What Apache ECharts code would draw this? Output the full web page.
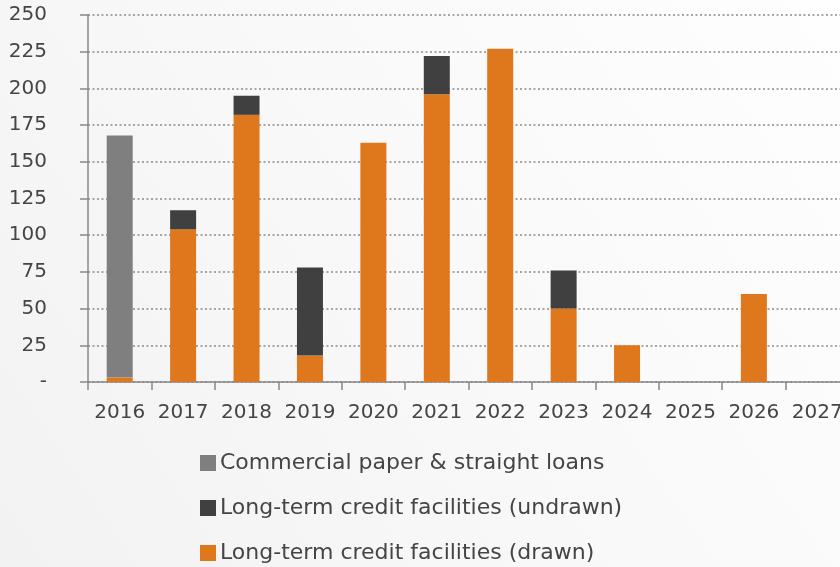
<!DOCTYPE html>
<html>
<head>
<meta charset="utf-8">
<script src="https://cdn.jsdelivr.net/npm/echarts@6/dist/echarts.min.js"></script>
<style>
  html, body { margin: 0; padding: 0; }
  #chart { width: 840px; height: 567px; }
</style>
</head>
<body>
<div id="chart"></div>
<script>
// maturity profile, amounts per year
const years = ["2016", "2017", "2018", "2019", "2020", "2021", "2022", "2023", "2024", "2025", "2026", "2027"];
const drawn = [3, 104, 182, 18, 163, 196, 227, 50, 25, 0, 60, 0];
const commercialPaper = [165, 0, 0, 0, 0, 0, 0, 0, 0, 0, 0, 0];
const undrawn = [0, 13, 13, 60, 0, 26, 0, 26, 0, 0, 0, 0];
const yTicks = [0, 25, 50, 75, 100, 125, 150, 175, 200, 225, 250];

const FONT = "DejaVu Sans";
const TEXT = "#454545";

const chart = echarts.init(document.getElementById("chart"));

const option = {
  backgroundColor: new echarts.graphic.LinearGradient(0, 1, 1, 0, [
    { offset: 0, color: "#f2f2f2" },
    { offset: 0.45, color: "#f8f8f8" },
    { offset: 1, color: "#fefefe" }
  ]),
  animation: false,
  textStyle: { fontFamily: FONT, color: TEXT },
  grid: {
    left: 88,
    top: 15,
    width: 761,
    height: 367,
    containLabel: false,
    outerBoundsMode: "none" // let the last year run off the right edge like the original
  },
  legend: {
    orient: "vertical",
    left: 200,
    top: 452,
    padding: 0,
    itemWidth: 16,
    itemHeight: 16,
    itemGap: 23,
    icon: "rect",
    data: ["Commercial paper & straight loans", "Long-term credit facilities (undrawn)", "Long-term credit facilities (drawn)"],
    textStyle: { fontFamily: FONT, fontSize: 22, color: TEXT, padding: [0, 0, 0, -1] }
  },
  xAxis: {
    type: "category",
    data: years,
    boundaryGap: true,
    axisLine: { lineStyle: { color: "#888", width: 1.5 } },
    axisTick: { show: true, length: 8, lineStyle: { color: "#888", width: 1.5 } },
    axisLabel: { fontFamily: FONT, fontSize: 20, color: TEXT, margin: 21, interval: 0, hideOverlap: false }
  },
  yAxis: {
    type: "value",
    min: yTicks[0],
    max: yTicks[yTicks.length - 1],
    interval: 25,
    axisLine: { show: true, lineStyle: { color: "#888", width: 1.5 } },
    axisTick: { show: true, length: 8, lineStyle: { color: "#888", width: 1.5 } },
    axisLabel: {
      fontFamily: FONT,
      fontSize: 20,
      color: TEXT,
      margin: 41,
      formatter: (v) => (v === 0 ? "-" : v)
    },
    splitLine: { lineStyle: { color: "#8a8a8a", type: [2, 2.5], width: 1.5 } }
  },
  series: [
    {
      name: "Long-term credit facilities (drawn)",
      type: "bar",
      stack: "total",
      barWidth: 26,
      data: drawn,
      itemStyle: { color: "#df771c" }
    },
    {
      name: "Commercial paper & straight loans",
      type: "bar",
      stack: "total",
      barWidth: 26,
      data: commercialPaper,
      itemStyle: { color: "#7f7f7f" }
    },
    {
      name: "Long-term credit facilities (undrawn)",
      type: "bar",
      stack: "total",
      barWidth: 26,
      data: undrawn,
      itemStyle: { color: "#404040" }
    }
  ]
};

chart.setOption(option);
</script>
</body>
</html>
